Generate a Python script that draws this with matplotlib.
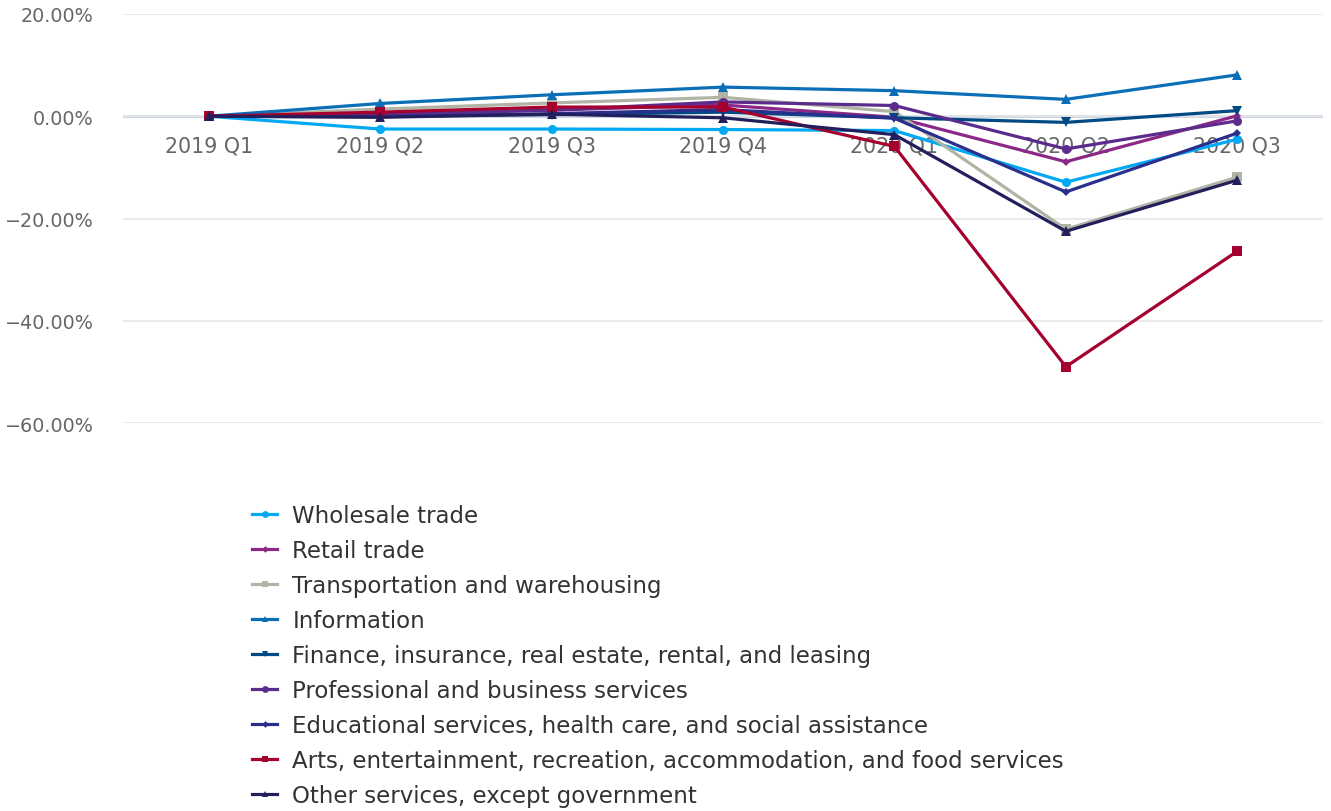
import matplotlib.pyplot as plt
import numpy as np

# Quarterly change since 2019 Q1, percent
quarters = ['2019 Q1', '2019 Q2', '2019 Q3', '2019 Q4', '2020 Q1', '2020 Q2', '2020 Q3']

industries = [
    'Wholesale trade',
    'Retail trade',
    'Transportation and warehousing',
    'Information',
    'Finance, insurance, real estate, rental, and leasing',
    'Professional and business services',
    'Educational services, health care, and social assistance',
    'Arts, entertainment, recreation, accommodation, and food services',
    'Other services, except government',
]

wholesale = [0, -2.5, -2.5, -2.6, -2.8, -12.9, -4.5]
retail = [0, 0.5, 1.2, 2.2, -0.2, -8.9, 0.1]
transport = [0, 1.4, 2.6, 3.7, 0.9, -22.1, -11.9]
information = [0, 2.5, 4.2, 5.7, 5.0, 3.3, 8.1]
finance = [0, 0.2, 0.3, 0.8, -0.3, -1.2, 1.1]
professional = [0, 0.3, 1.2, 2.8, 2.1, -6.4, -0.9]
education = [0, -0.1, 0.5, 1.3, -0.4, -14.8, -3.3]
arts = [0, 0.8, 1.8, 1.8, -5.9, -49.0, -26.4]
other = [0, -0.2, 0.4, -0.3, -3.6, -22.5, -12.5]

series = [wholesale, retail, transport, information, finance,
          professional, education, arts, other]
colors = ['#00a9f2', '#8c2887', '#b1b4a5', '#0b6fb8', '#004a84',
          '#5b2c8c', '#2b2f8c', '#a6002f', '#231f5c']
markers = ['o', 'D', 's', '^', 'v', 'o', 'D', 's', '^']
msizes = [6.5, 4.5, 6.5, 6.5, 6.5, 6.5, 4.5, 6.5, 6.5]

fig = plt.figure(figsize=(13.31, 8.12), dpi=100)
ax = fig.add_axes([123 / 1331, 1 - 424 / 812, 1200 / 1331, 409 / 812])

x = np.arange(len(quarters))
handles = []
for i, (vals, c, m, ms, name) in enumerate(zip(series, colors, markers, msizes, industries)):
    h, = ax.plot(x, vals, color=c, lw=2.3, marker=m, markersize=ms,
                 markeredgewidth=0, label=name, zorder=3 + i * 0.1)
    handles.append(h)

ax.set_xlim(-0.5, len(quarters) - 0.5)
ax.set_ylim(-60, 20)
ax.set_yticks([20, 0, -20, -40, -60])
ax.set_yticklabels([f'{v:.2f}%'.replace('-', '\u2212') for v in [20, 0, -20, -40, -60]],
                   color='#666666', fontsize=13.8)
ax.tick_params(axis='y', length=0, pad=21)
ax.set_xticks([])
for s in ax.spines.values():
    s.set_visible(False)
ax.grid(axis='y', color='#e6e6e6', lw=1.2, zorder=0)
ax.axhline(0, color='#ccd6eb', lw=2.2, zorder=1)

# category labels hang just under the zero line
for xi, q in zip(x, quarters):
    ax.annotate(q, (xi, 0), xytext=(0, -29), textcoords='offset pixels',
                ha='center', va='center', color='#666666', fontsize=14.8, zorder=2)

leg = fig.legend(handles=handles, loc='upper left', bbox_to_anchor=(243 / 1331, 1 - 496 / 812),
                 frameon=False, fontsize=16.5, labelcolor='#333333', handlelength=1.1,
                 handletextpad=0.65, labelspacing=0.525, borderaxespad=0)
for lh in leg.legend_handles:
    lh.set_markersize(lh.get_markersize() * 0.75)

fig.savefig('out.png', dpi=100)
